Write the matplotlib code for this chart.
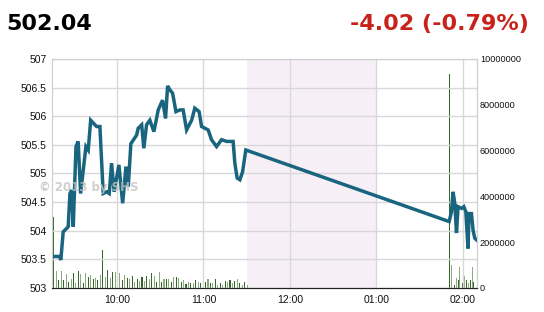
import numpy as np
import matplotlib
matplotlib.use('Agg')
import matplotlib.pyplot as plt
from matplotlib.ticker import FuncFormatter

# price line, time in minutes after midnight
price_time = [555.7, 559.9, 561.0, 562.6, 565.0, 566.1, 567.3, 568.5, 569.6, 571.5,
              573.0, 574.7, 578.4, 580.0, 581.7, 583.5, 585.8, 588.1, 590.4, 592.8,
              594.6, 596.2, 598.0, 601.3, 603.9, 606.2, 607.8, 609.6, 613.6, 614.7,
              617.1, 618.6, 620.5, 622.8, 625.6, 628.6, 631.6, 633.7, 635.1, 636.7,
              638.6, 640.9, 643.6, 645.9, 648.3, 651.8, 654.0, 657.0, 658.7, 663.3,
              665.6, 669.1, 672.6, 676.1, 680.6, 681.8, 683.4, 685.3, 687.2, 689.4,
              830.6, 832.2, 833.3, 834.5, 835.7, 836.8, 839.2, 840.8, 842.2, 843.7,
              844.4, 846.1, 847.2, 848.4, 849.6]
price = [503.55, 503.55, 503.49, 503.98, 504.04, 504.07, 504.65, 504.71, 504.07, 505.47,
         505.56, 504.65, 505.47, 505.41, 505.93, 505.88, 505.82, 505.82, 504.65, 504.68,
         504.65, 505.18, 504.68, 505.15, 504.48, 505.12, 504.77, 505.52, 505.67, 505.79,
         505.85, 505.44, 505.85, 505.93, 505.73, 506.11, 506.28, 505.96, 506.53, 506.46,
         506.40, 506.08, 506.11, 506.11, 505.76, 505.93, 506.14, 506.08, 505.82, 505.76,
         505.59, 505.47, 505.59, 505.56, 505.56, 505.18, 504.92, 504.89, 505.03, 505.41,
         504.16, 504.33, 504.68, 504.48, 503.96, 504.42, 504.39, 504.42, 504.33, 503.69,
         504.30, 504.30, 504.01, 503.87, 503.84]

# volume, morning session (regular grid 9:16 - 11:30)
am_volume = [3.12, 0.74, 0.35, 0.74, 0.35, 0.61, 0.28, 0.38, 0.64, 0.23,
             0.74, 0.61, 0.23, 0.64, 0.50, 0.57, 0.38, 0.42, 0.35, 0.57,
             1.66, 0.50, 0.79, 0.42, 0.71, 0.71, 0.71, 0.64, 0.35, 0.57,
             0.42, 0.38, 0.52, 0.28, 0.38, 0.32, 0.50, 0.32, 0.52, 0.38,
             0.64, 0.52, 0.28, 0.70, 0.28, 0.38, 0.38, 0.38, 0.28, 0.47,
             0.50, 0.42, 0.28, 0.35, 0.17, 0.28, 0.20, 0.23, 0.35, 0.28,
             0.20, 0.76, 0.28, 0.38, 0.23, 0.20, 0.38, 0.13, 0.20, 0.13,
             0.32, 0.28, 0.35, 0.20, 0.32, 0.38, 0.20, 0.13, 0.28, 0.13]
am_time = np.linspace(556.2, 690.3, len(am_volume))
pm_time = [830.6, 832.2, 834.0, 835.7, 836.8, 838.0, 839.6, 841.0, 842.6, 844.2,
           845.4, 846.5, 847.7]
pm_volume = [9.35, 1.00, 0.13, 0.42, 0.35, 0.90, 0.20, 0.52, 0.35, 0.20, 0.35, 0.90, 0.28]

hour_ticks = [600, 660, 720, 780, 840]
hour_labels = ['10:00', '11:00', '12:00', '01:00', '02:00']
last_value = '502.04'
change_text = '-4.02 (-0.79%)'

plt.rcParams['font.family'] = ['Liberation Sans', 'DejaVu Sans']

fig = plt.figure(figsize=(5.44, 3.12), dpi=100)
ax = fig.add_axes([0.096, 0.077, 0.781, 0.734])
ax2 = ax.twinx()
ax.set_zorder(ax2.get_zorder() + 1)
ax.patch.set_visible(False)

# volume bars
vol_time = list(am_time) + pm_time
vol = [v * 1e6 for v in am_volume + pm_volume]
colors = ['#35652a' if i % 2 == 0 else '#8aab7c' for i in range(len(vol))]
colors[len(am_volume)] = '#35652a'
ax2.bar(vol_time, vol, width=0.75, color=colors, linewidth=0)
ax2.axvspan(690, 780, color='#f6f0f6', zorder=0, linewidth=0)
ax2.set_ylim(0, 1e7)
ax2.set_yticks(np.arange(0, 1.01e7, 2e6))
ax2.yaxis.set_major_formatter(FuncFormatter(lambda v, p: '%d' % v))

# price line
ax.plot(price_time, price, '-', color='#19657f', linewidth=2.5, solid_joinstyle='miter')
ax.set_xlim(555, 850)
ax.set_ylim(503, 507)
ax.set_yticks(np.arange(503, 507.01, 0.5))
ax.yaxis.set_major_formatter(FuncFormatter(lambda v, p: '%g' % v))
ax.set_xticks(hour_ticks)
ax.set_xticklabels(hour_labels)
ax.grid(True, color='#d8d8d8', linewidth=1)

for a in (ax, ax2):
    for s in a.spines.values():
        s.set_color('#d0d0d0')
    a.spines['bottom'].set_color('#222222')
    a.tick_params(length=0, labelsize=7.5, colors='#111111')
ax.tick_params(axis='y', pad=4)
ax.tick_params(axis='x', pad=5)
ax2.tick_params(axis='y', pad=2, labelsize=6.6)

ax.text(-0.03, 0.44, '\u00a9 2013 by SHS', transform=ax.transAxes, fontsize=8.5,
        fontweight='bold', color='#c4c4c4', alpha=0.8, va='center', family='DejaVu Sans')

fig.text(0.011, 1 - 30 / 312, last_value, fontsize=16, fontweight='bold',
         color='#000000', family='DejaVu Sans', va='baseline')
fig.text(0.972, 1 - 30 / 312, change_text, fontsize=16, fontweight='bold',
         color='#c8231b', family='DejaVu Sans', va='baseline', ha='right')

plt.savefig('out.png', dpi=100)
